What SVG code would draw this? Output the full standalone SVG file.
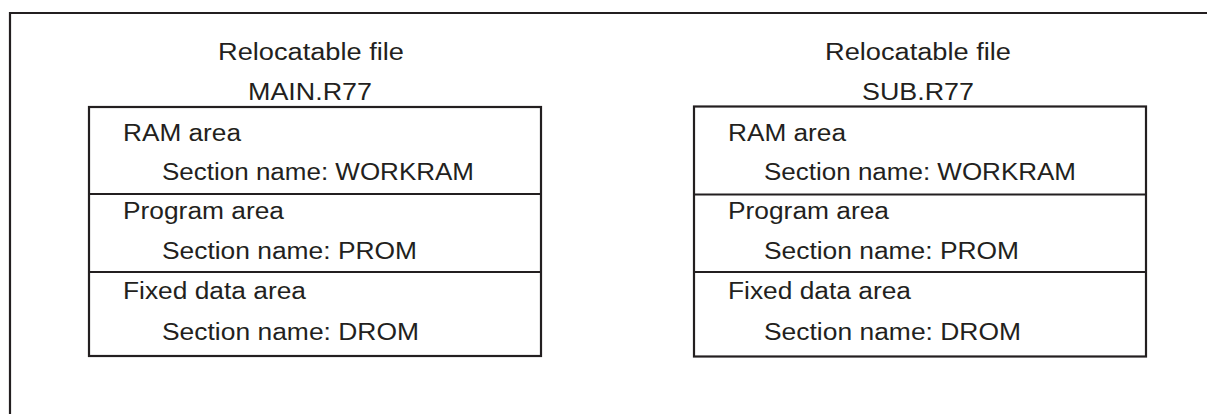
<svg xmlns="http://www.w3.org/2000/svg" width="1207" height="414" viewBox="0 0 1207 414">
  <style>
    .frame { fill: none; stroke: #231f20; stroke-width: 2.2; }
    .box { fill: #ffffff; stroke: #231f20; stroke-width: 2.2; }
    .sep { stroke: #231f20; stroke-width: 2.2; }
    text { font-family: "Liberation Sans", Arial, Helvetica, sans-serif; font-size: 23px; fill: #231f20; }
    .title { text-anchor: middle; }
  </style>

  <!-- outer frame, open to the right and bottom -->
  <path class="frame" d="M10 416 V13 H1209"/>

  <!-- MAIN.R77 relocatable file -->
  <g id="main-r77">
    <text class="title" x="311" y="60" textLength="186" lengthAdjust="spacingAndGlyphs">Relocatable file</text>
    <text class="title" x="310" y="99.5" textLength="124" lengthAdjust="spacingAndGlyphs">MAIN.R77</text>
    <rect class="box" x="89" y="107" width="452" height="249"/>
    <line class="sep" x1="89" y1="194" x2="541" y2="194"/>
    <line class="sep" x1="89" y1="272" x2="541" y2="272"/>
    <text x="123" y="140.5" textLength="118" lengthAdjust="spacingAndGlyphs">RAM area</text>
    <text x="162" y="180" textLength="312" lengthAdjust="spacingAndGlyphs">Section name: WORKRAM</text>
    <text x="123" y="219" textLength="161" lengthAdjust="spacingAndGlyphs">Program area</text>
    <text x="162" y="259" textLength="255" lengthAdjust="spacingAndGlyphs">Section name: PROM</text>
    <text x="123" y="299" textLength="183" lengthAdjust="spacingAndGlyphs">Fixed data area</text>
    <text x="162" y="340" textLength="257" lengthAdjust="spacingAndGlyphs">Section name: DROM</text>
  </g>

  <!-- SUB.R77 relocatable file -->
  <g id="sub-r77">
    <text class="title" x="918" y="60" textLength="186" lengthAdjust="spacingAndGlyphs">Relocatable file</text>
    <text class="title" x="918" y="99.5" textLength="112" lengthAdjust="spacingAndGlyphs">SUB.R77</text>
    <rect class="box" x="694" y="106.5" width="452" height="250"/>
    <line class="sep" x1="694" y1="194.5" x2="1146" y2="194.5"/>
    <line class="sep" x1="694" y1="272" x2="1146" y2="272"/>
    <text x="728" y="140.5" textLength="118" lengthAdjust="spacingAndGlyphs">RAM area</text>
    <text x="764" y="180" textLength="312" lengthAdjust="spacingAndGlyphs">Section name: WORKRAM</text>
    <text x="728" y="219" textLength="161" lengthAdjust="spacingAndGlyphs">Program area</text>
    <text x="764" y="259" textLength="255" lengthAdjust="spacingAndGlyphs">Section name: PROM</text>
    <text x="728" y="299" textLength="183" lengthAdjust="spacingAndGlyphs">Fixed data area</text>
    <text x="764" y="340" textLength="257" lengthAdjust="spacingAndGlyphs">Section name: DROM</text>
  </g>

  <!-- no connectors between the two files -->
  <g id="connectors"/>
</svg>
